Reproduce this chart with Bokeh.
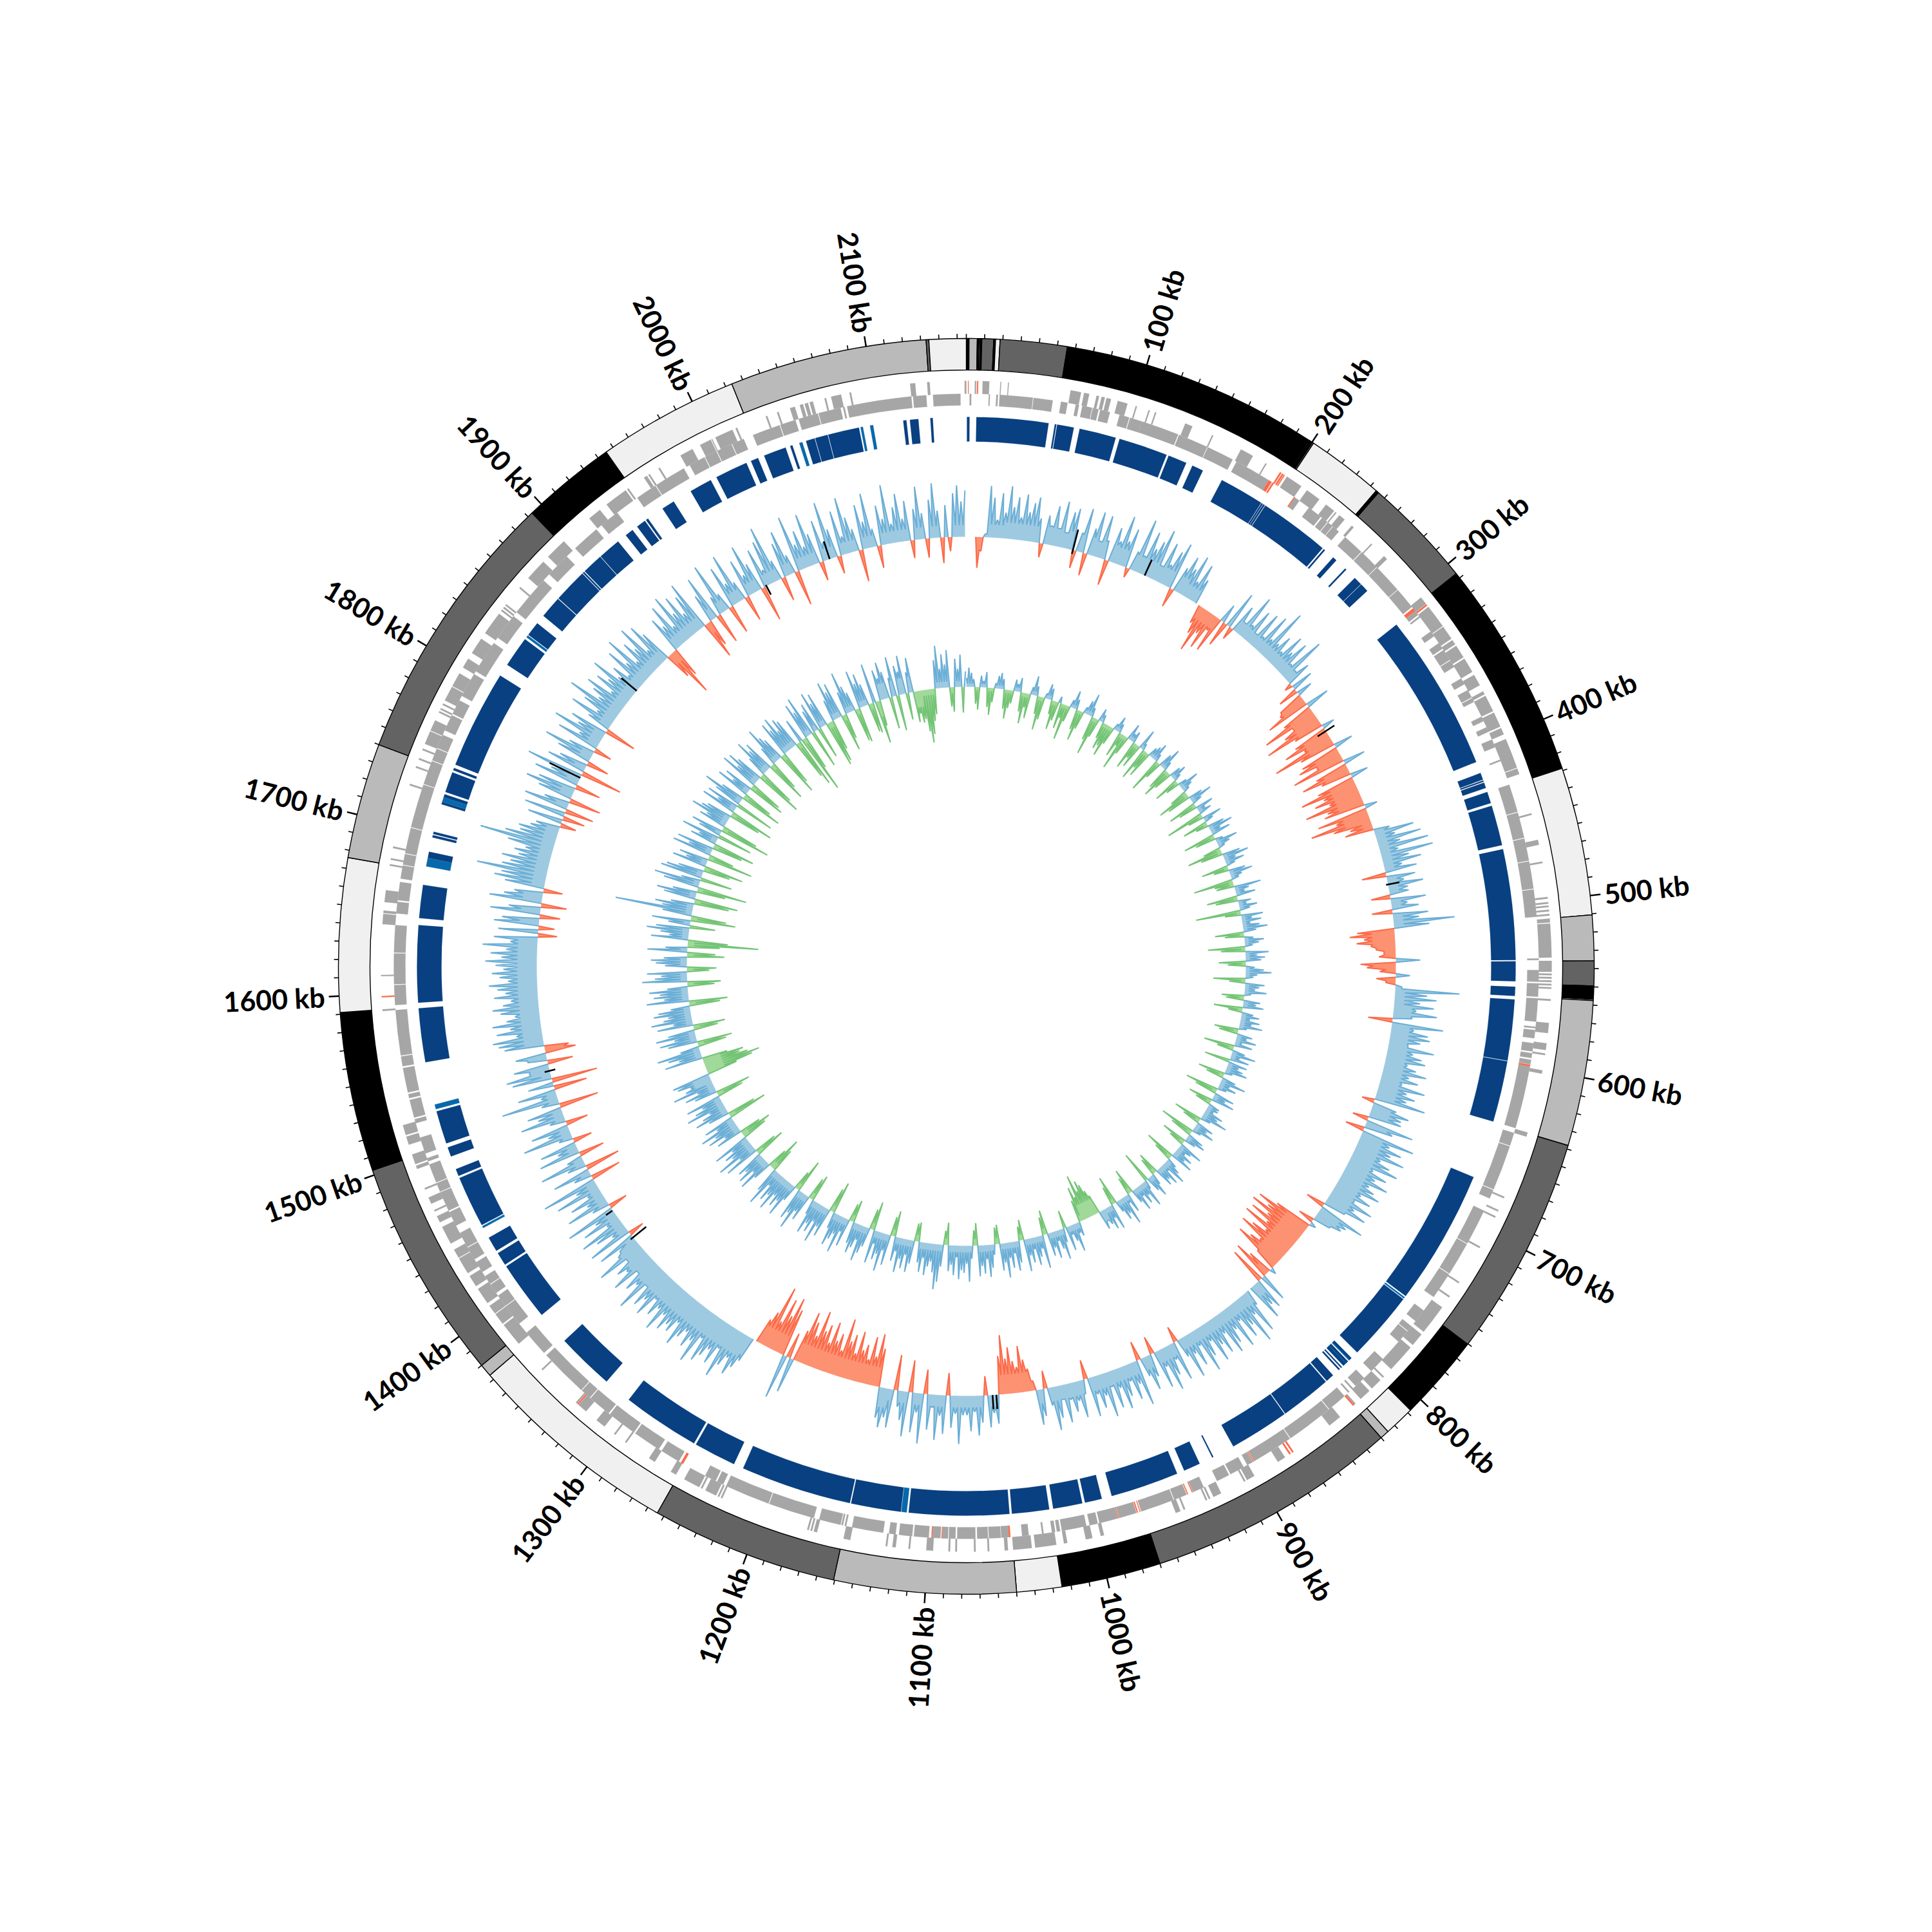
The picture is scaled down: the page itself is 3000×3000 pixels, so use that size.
import numpy as np
from bokeh.plotting import figure
from bokeh.models import Range1d
from bokeh.core.properties import value
from bokeh.embed import file_html
from bokeh.resources import INLINE

GENOME_KB = 2155
K, D, M, L = "#000000", "#636363", "#bababa", "#f0f0f0"
RING = [(0,1.5,K),(1.5,6,M),(6,7,K),(7,7.6,L),(7.6,8.5,K),(8.5,15,D),(15,16,K),(16,18.5,L),(18.5,55.5,D),
        (55.5,198,K),(198,198.6,D),(198.6,199,K),(199,199.5,L),(199.5,200.2,K),(200.2,201,D),(201,244,L),
        (244,244.6,K),(244.6,245,L),(245,245.6,K),(245.6,307,D),(307,428.7,K),(428.7,510.6,L),(510.6,535.7,M),
        (535.7,549.5,D),(549.5,556.8,K),(556.8,557.5,L),(557.5,638,M),(638,760.3,D),(760.3,808,K),(808,825,L),
        (825,830,M),(830,970,D),(970,1025,K),(1025,1050,L),(1050,1150.6,M),(1150.6,1254,D),(1254,1373,L),
        (1373,1380,M),(1380,1502.7,D),(1502.7,1591,K),(1591,1676,L),(1676,1740,M),(1740,1893,D),(1893,1945.5,K),
        (1945.5,2023.7,L),(2023.7,2133,M),(2133,2134.5,D),(2134.5,2155,L)]

BLOCKS_DARK = [(0.4,2),(6.3,51.6),(55.5,56.5),(57,67.6),(71.3,94.5),(97,128),(129.4,141.3),(145.5,152.7),(166,194.3),
    (194.6,195.6),(195.9,197),(197.4,242),(243,244),(250.8,253.5),(261,262),(269.4,274.8),(275.1,280.6),(308.5,408),
    (415.4,419.8),(420.3,421.2),(421.8,425.3),(428,435.3),(437,462.4),(465,534.8),(535.6,548.1),(551.5,557.3),
    (559.5,598),(598.4,637),(673.8,759.6),(762,806),(811,813),(814,818),(819.2,820),(821,822),(826.8,832),(832.8,865),
    (865.6,903.4),(917.5,918.3),(927,937.6),(942.4,985.6),(992,1002.8),(1004.5,1023),(1025.5,1049),(1050.5,1113.6),
    (1118.5,1150),(1150.8,1221),(1227.3,1254),(1255.4,1304.5),(1322.4,1359),(1380.5,1418),(1419.4,1427.8),
    (1429.6,1439),(1448,1480.6),(1482,1486.5),(1495,1501),(1503.7,1524.6),(1556,1590),(1593.5,1642),(1646.4,1667.3),
    (1684.3,1688.3),(1697.5,1699),(1699.7,1701.2),(1719,1720.5),(1723.5,1725.5),(1727,1740),(1741.5,1743),(1745.2,1807.5),
    (1815.6,1835),(1838.5,1847.6),(1853.6,1867.5),(1868,1889.5),(1890,1891),(1891.6,1904.8),(1905.2,1919.5),
    (1925.7,1931),(1934.6,1940.6),(1941.5,1943),(1954,1962.3),(1974.7,1989),(1993,2013.7),(2016.8,2021.6),
    (2025.7,2040),(2043,2044.5),(2053.4,2059),(2059.4,2067.4),(2067.8,2087.5),(2115.5,2117.5),(2119.7,2125),(2132.5,2134)]
BLOCKS_LIGHT = [(812.5,813.2),(815.5,816),(1114.8,1118.2),(1446,1447.3),(1526,1529),(1679,1684.3),(1720.5,1723.5),
    (1836.5,1838),(2049,2051),(2088.5,2090),(2094.5,2096.5),(760.5,761.5)]

GENES_OUTER = [(2154,2155),(5,5.8),(9.6,13.5),(20,20.5),(24.5,25),(61.5,67.7),(69.5,72.6),(77,78.5),(80,82),(83,85.7),
    (89.8,95.7),(100.7,101.5),(108.6,109.4),(112.6,113.4),(131.5,136),(148.6,149.4),(167.5,175.5),(184,184.8),(198.8,209),
    (213,222),(227,233),(234,234.8),(237,241),(246.5,248),(262,262.8),(272.5,275),(305,309.8),(312,326),(326.5,335),
    (336,339),(340,348),(349,358),(360,367),(371,373),(374,384),(385,394),(395,399),(402,420),(420.5,424),(448,449),
    (464,467),(477,478),(498,499),(501,502),(503,504),(505.5,506.5),(508,509),(510.7,513),(513.6,533.6),(535.5,542),
    (543,544),(545,546),(547,548),(549,550),(551,552),(558,559),(572,578),(584,588),(590,591),(600,602),(637.5,640),
    (677.5,678.5),(686,687),(690,691),(710,711),(734,735),(744,745),(752,770),(772,780),(782,799),(805,806),(808,815),
    (817,824),(828,829),(840,848),(880,885),(901,906),(907,908),(923,928),(930,931),(932,933),(946,947),(949,952),
    (996,998),(1003,1007),(1018,1020),(1024.5,1037),(1039,1050),(1053,1055),(1064,1065),(1072,1073),(1083,1084),
    (1087,1088),(1097,1101),(1110.5,1111.5),(1119,1121),(1124,1125),(1146,1150),(1166,1168),(1169,1170),(1171,1172),
    (1225,1226),(1227,1228),(1229,1236),(1238,1239),(1240,1250),(1255.5,1259),(1270,1274),(1290,1291),(1298,1299),
    (1306,1312),(1320,1325.8),(1327,1328),(1355,1356),(1376,1390),(1391,1398),(1398.5,1404),(1406,1416),(1418,1425),
    (1427,1437),(1437.5,1443),(1447,1458),(1461,1465),(1468,1469),(1473,1477),(1482,1483),(1495,1497),(1498,1504),
    (1510,1515),(1516,1522),(1590,1591),(1610.5,1611.2),(1641,1647),(1647.5,1649),(1654,1661),(1675.5,1676.5),(1679,1680),
    (1686,1687),(1724,1725),(1735,1736),(1740,1741),(1746,1747),(1750,1758),(1758.5,1765),(1770,1771),(1772,1773),
    (1775,1776),(1778,1787),(1787.5,1796),(1800,1806),(1810,1820),(1824,1838),(1840,1841),(1842,1843),(1844,1845),
    (1857,1858),(1865,1878),(1882,1895),(1915,1923),(1928,1942),(1943,1944),(1955,1957),(1958,1959),(1965,1966),
    (1980,1988),(1993,2000),(2000.5,2001),(2003,2014),(2016,2017),(2035,2036),(2042,2043),(2050,2053),(2056,2058),
    (2059,2061),(2062,2064),(2071,2072),(2075,2081),(2086,2087),(2122,2125),(2132,2133.5)]
GENES_INNER = [(2,3),(13.5,14.2),(18,19),(20,40),(40.4,52),(57,61),(66,68),(70,76),(76.4,80),(81,87),(93,99),(99.5,107),
    (107,130),(130.6,149),(149.4,166),(168.6,191),(209.6,213),(220,229),(230,234),(234.5,238),(238.4,243),(248,261),
    (261.5,274),(274.4,292.4),(292.8,306),(309,312),(313,314),(324.5,328),(333,337),(338,345),(345.5,350),(358,362),
    (366,371),(371.5,374),(384,387),(391,394),(399,404),(412,413),(428,445),(445.5,461),(461.5,475),(475.5,492),(492.5,509),
    (534,535),(541,548),(549,557),(558,572),(575,576),(577,582),(585,590),(591,594),(595,597.8),(599,637),(640,648),
    (648.5,676),(676.5,682),(690,712),(712.5,733),(733.5,750),(760,768),(772,775.5),(776,784),(798,808),(814,821),
    (823,824),(826,827),(830,842),(842.5,871),(871.5,896.8),(897.8,901.5),(904,913),(914,922),(930.8,937.8),(942,950),
    (950.5,971),(974,984.8),(985.6,997),(998,1003),(1005,1020),(1021,1023),(1024,1026),(1031,1032),(1040,1044),
    (1052,1056.5),(1056.8,1064),(1064.5,1071),(1072,1083),(1084,1088),(1088.5,1092),(1093,1098),(1100,1109),(1110,1118),
    (1120,1124),(1127.5,1146.5),(1150,1151),(1152,1153),(1153.5,1166.7),(1170,1198),(1198.5,1226),(1228,1232),(1233,1240),
    (1258,1270),(1272,1289),(1290,1308),(1309,1323),(1323.6,1330),(1330.5,1360),(1362,1378),(1385,1398),(1398.5,1406),
    (1408,1414),(1414.5,1420),(1423,1430),(1432,1440),(1440.5,1450),(1455,1464),(1465,1477),(1477.5,1483),(1483.5,1495),
    (1497,1499),(1502,1512),(1521,1523.5),(1524.5,1535.5),(1536.5,1539),(1540,1555),(1556,1562),(1562.6,1590),(1593,1605),
    (1605.5,1624),(1624.5,1641),(1648,1655),(1656,1667),(1669,1677),(1677.5,1684),(1684.5,1700),(1700.5,1727),(1727.5,1742),
    (1742.5,1750),(1750.5,1759),(1762,1772),(1773,1782),(1785,1800),(1802,1822),(1826,1842),(1845,1870),(1875,1890),
    (1897,1914),(1918,1930),(1945,1958),(1958.5,1978),(1982,1992),(1992.5,2000),(2000.5,2010),(2010.5,2018),(2024,2041),
    (2041.5,2051),(2053,2065),(2065.5,2079),(2080.5,2081.5),(2083,2122),(2123,2131),(2135,2151.5)]
RED_OUTER = [(1,1.4),(6.3,7),(194,195),(195.5,196.5),(196.8,197.4),(310,311),(829,830),(874,875),(876,877),(1326,1326.8),(1598,1598.8)]
RED_INNER = [(191,193),(193.5,194.5),(209,209.6),(307,309),(598,599),(897,897.6),(938,938.6),(941,941.6),(971.5,972),
    (973,973.7),(985,985.5),(1051,1052),(1092,1092.4),(1098,1098.5),(1255,1256.5)]

# GC content peaks, one every 3 kb, twenty to the line
GC_CONTENT = [
 0,0,0,-48,-22,5,80,62,28,70,40,82,50,66,35,72,45,60,70,38,
 -22,45,30,62,28,72,24,58,65,-28,30,70,-35,42,70,25,68,30,-40,55,
 35,78,40,62,-15,30,85,28,70,45,60,82,25,66,33,58,75,-30,40,62,
 45,70,30,62,40,0,-30,-45,-72,-38,-60,-25,-58,30,-40,60,-20,45,20,72,
 25,55,18,60,22,66,28,85,30,48,25,60,35,58,22,75,20,40,-12,35,
 -32,25,-40,-45,-70,38,-50,-88,-40,-60,-95,-48,20,-55,-76,-45,-100,-58,30,-62,
 -70,-42,-85,35,-52,-78,-48,28,-60,-90,-55,-72,-50,-92,-58,-65,20,-80,-52,-95,
 -60,-35,-45,25,62,30,70,35,78,28,82,42,60,28,50,-38,45,26,55,30,
 30,-30,55,25,42,-32,55,40,95,55,-58,-70,-48,-60,-38,-30,-18,-26,38,-55,
 -45,-25,22,-30,-15,10,100,50,65,40,62,35,68,30,-38,80,35,58,62,48,
 30,72,40,55,62,35,50,68,42,58,34,72,45,60,48,80,-20,38,60,50,
 52,-25,76,45,-30,85,48,70,55,80,44,62,78,40,66,50,74,46,58,70,
 42,62,38,72,45,68,35,-30,75,50,45,28,-25,10,-60,-90,-70,-95,-62,-88,
 -55,-92,-48,-70,-86,-45,-60,-78,-35,10,-40,-62,45,-58,50,40,60,0,25,70,
 35,80,45,62,28,70,35,55,68,30,60,42,66,28,50,72,25,55,32,68,
 30,-25,62,25,48,70,28,60,-28,36,55,30,-30,72,35,58,26,48,66,30,
 60,24,70,34,52,28,62,-30,22,58,30,46,25,60,22,50,68,28,-28,42,
 55,-15,-35,-50,-72,-40,-50,-72,-55,-92,-60,45,28,50,-30,42,62,25,55,30,
 30,75,28,50,-35,60,32,70,20,55,-38,78,30,62,-50,70,45,25,-55,60,
 45,62,48,-60,-82,-45,-75,-38,-60,-50,-78,-42,-70,-58,-92,-40,-65,-52,-80,-45,
 -72,-60,-90,-48,-68,-82,-50,55,-40,70,-75,-92,-60,-85,-45,-100,-55,-40,0,40,
 55,70,45,62,85,40,70,50,65,78,42,88,55,70,48,62,80,45,66,58,
 72,50,82,48,65,40,75,52,68,35,85,45,60,30,72,42,55,30,78,38,
 30,62,-25,70,25,50,72,22,60,35,80,-30,28,68,30,55,22,72,35,88,
 -48,28,60,-55,30,72,25,-40,65,32,58,-30,22,78,35,60,-35,25,70,40,
 55,-62,28,90,25,60,-52,40,-72,62,70,32,55,-40,30,48,-48,-38,62,70,
 78,40,70,48,75,52,38,60,72,55,42,68,50,62,75,45,58,70,52,64,
 80,55,72,48,85,42,68,-30,62,-25,70,58,-32,78,50,-40,82,60,45,-30,
 62,80,70,110,72,60,75,50,58,42,72,118,80,58,62,45,38,-25,55,-35,
 65,-45,70,40,-50,55,78,60,-40,72,48,90,-65,62,45,-35,55,80,42,-28,
 68,35,82,45,60,-50,38,72,30,58,88,40,55,70,30,62,45,78,35,50,
 25,70,40,82,30,62,45,80,30,72,52,-42,-78,-48,58,40,72,30,80,45,
 70,35,62,80,-60,-42,45,72,-48,30,82,28,-45,66,35,80,30,-40,60,32,
 78,45,-55,62,25,70,90,32,-38,55,72,30,-55,88,40,60,32,82,48,-30,
 65,28,90,45,-28,70,28,88,55,35,-50,70,42,85,28,-35,62,40,92,30,
 55,75,35,62,-28,48,82,40,-30,60,85,42,-40,50,-22,68,80,55,72]
# thickness of the solid band under the GC content peaks, one value per 30 kb
GC_BAND = [20,25,28,28,26,26,20,20,18,18,40,40,40,40,15,15,15,35,15,28,30,30,35,35,35,40,40,20,18,18,
           20,20,22,22,30,18,18,18,30,30,30,30,35,35,35,35,15,15,15,15,15,30,30,30,30,30,20,20,20,18,18,18,
           18,18,18,18,18,18,18,18,18,18]

# GC skew peaks, one every 3 kb, twenty to the line
GC_SKEW = [
 14,30,22,12,-26,-35,18,10,24,-30,-42,-22,8,20,25,16,-30,-45,-28,-20,
 18,12,22,-30,-48,-22,-38,12,30,15,-28,-52,-35,8,24,18,-22,-45,-30,10,
 -40,-22,-55,-25,12,28,16,-32,-48,-28,10,22,35,14,-38,-60,-30,20,12,-26,
 -42,-35,-50,-28,10,24,14,-40,-20,-58,-30,26,12,18,-45,-25,-38,32,10,-52,
 -30,-42,15,20,28,12,-55,-28,22,35,14,-35,-48,-30,18,25,12,-40,-22,14,
 32,18,10,-28,-52,-38,22,36,16,-45,-30,28,12,20,-60,-25,30,14,-40,-20,
 26,38,16,30,-50,-32,12,34,20,10,-28,-55,-35,28,40,18,30,14,-42,-24,
 26,36,18,12,-62,-30,-28,42,22,14,30,-48,-35,20,12,28,16,-70,-25,34,
 16,30,12,26,38,20,-45,-30,14,30,22,12,-58,-38,36,18,30,24,-42,-28,
 14,28,40,18,12,-50,-25,30,22,16,34,10,-35,-28,26,20,32,-45,-22,18,
 28,14,30,18,36,12,-38,-30,24,16,32,10,28,-48,-26,20,38,14,30,-40,
 30,18,26,34,12,-42,-28,22,40,16,28,14,-52,-35,32,20,36,-38,-25,18,
 18,12,30,24,42,16,-45,-28,28,20,34,14,-55,-35,26,32,18,-40,-25,38,
 22,14,30,20,36,-48,-30,16,26,40,12,34,22,30,-35,-28,18,36,24,-50,
 14,42,20,32,16,38,22,-40,-28,30,12,46,26,34,18,-45,-30,40,20,36,
 26,18,30,-30,-40,-52,-60,-45,-72,-38,-55,-35,22,16,44,26,14,38,-28,22,
 48,30,16,42,24,36,-38,-28,52,20,32,44,18,38,26,50,-32,-22,34,46,
 18,40,24,54,30,42,-30,-26,16,36,50,22,44,32,48,-35,-24,20,56,28,
 42,38,52,18,46,30,40,-35,-22,34,58,70,44,28,36,50,24,46,32,-30,
 -28,36,50,24,46,32,54,22,38,-40,-30,48,26,60,34,44,20,52,-45,-32,
 30,42,56,24,38,48,34,-35,-28,44,22,58,30,40,52,26,-50,-38,46,32,
 60,28,48,36,54,24,-42,-35,42,30,62,38,50,-52,-30,26,56,34,46,30,
 58,36,48,24,62,40,-38,-55,-32,30,54,26,50,34,44,-48,-36,56,28,64,
 36,46,30,58,-40,-50,-34,42,26,52,38,60,30,48,-62,-45,34,54,40,26,
 62,46,32,56,-42,-55,36,50,28,66,44,34,54,60,-48,-75,-88,-70,-58,-65,
 -40,60,36,52,68,30,-45,-55,46,58,34,62,42,-38,-50,56,30,64,44,36,
 58,50,30,-48,-60,66,38,54,44,60,32,-42,-52,70,50,40,62,-35,-46,34,
 48,56,36,-58,-44,62,34,-50,-110,-62,58,30,44,66,52,-40,34,60,-70,-55,
 46,121,48,60,36,-55,-68,50,62,38,-45,-78,56,72,30,-50,66,58,40,-42,
 -62,54,34,46,-72,-40,62,38,58,-48,-66,42,30,60,-55,36,50,-80,-58,44,
 34,62,48,40,-50,-70,56,32,52,-62,44,66,38,-67,-48,54,30,46,-60,-52,
 62,38,58,44,-75,-58,32,60,40,50,-66,-48,30,62,44,36,-70,-54,56,42,
 60,34,52,46,-62,-78,38,-92,-55,58,42,64,-60,36,46,-50,60,40,54,-72,
 -67,-48,34,62,44,56,-58,-40,36,66,42,30,-52,-55,60,38,52,34,-45,-48,
 62,-67,-40,48,34,58,42,-50,30,62,-56,46,36,60,-42,32,54,-48,-35,-50,
 -45,-65,-83,-70,-50,-40,44,66,30,52,36,58,-30,-38,44,28,50,-40,24]
# thickness of the band under the GC skew peaks, one value per 30 kb
SKEW_BAND = [5,5,6,6,5,6,6,6,5,5,6,6,6,6,6,6,6,6,6,7,7,7,7,7,7,7,8,8,8,8,
             25,9,9,9,9,10,10,10,10,10,10,10,10,10,10,10,10,10,10,28,10,10,10,10,10,10,10,9,9,9,9,9,
             9,9,9,9,9,9,25,25,9,9]

# short black strokes on the GC content track: position (kb), low and high deviation
GC_MISSING = [(86,-6,33),(146.8,0,27),(340,-15,16),(473,-3,18),(1053.5,0,22),(1056.5,0,22),(1409,1,13),(1382,-26,5),
              (1532,-9,8),(1772,0,53),(1855,0,31),(1989,-15,2),(2044,0,29)]
MAJOR_KB = [100,200,300,400,500,600,700,800,900,1000,1100,1200,1300,1400,1500,1600,1700,1800,1900,2000,2100]
MINOR_STEP_KB = 10


def theta(kb):
    return np.pi / 2 - np.asarray(kb, dtype=float) * 2 * np.pi / GENOME_KB


def xy(kb, r):
    t = theta(kb)
    return np.asarray(r) * np.cos(t), np.asarray(r) * np.sin(t)


p = figure(width=2984, height=2984, output_backend="svg", toolbar_location=None, min_border=0,
           x_range=Range1d(-1500, 1484), y_range=Range1d(-1484, 1500), outline_line_color=None,
           background_fill_color="white", border_fill_color="white")
p.axis.visible = False
p.grid.visible = False


def wedges(items, r0, r1, color):
    s = [a for a, _ in items]
    e = [b for _, b in items]
    p.annular_wedge(x=0, y=0, inner_radius=r0, outer_radius=r1, start_angle=theta(s), end_angle=theta(e),
                    direction="clock", fill_color=color, line_color=color, line_width=0.2)


def signed_track(values, band, base, pos_fill, pos_line, neg_fill, neg_line):
    v = np.asarray(values, dtype=float)
    kb, val = [], []
    for i, a in enumerate(v):
        kb.append(i * 3.0)
        val.append(a)
        if i + 1 < len(v):
            b = v[i + 1]
            kb.append(i * 3.0 + 1.5)
            thick = band[min(i // 10, len(band) - 1)]
            val.append(np.sign(a) * min(thick, abs(a), abs(b)) if a * b > 0 else 0.0)
    kb, val = np.array(kb), np.array(val)
    for sign, fill, line in ((1, pos_fill, pos_line), (-1, neg_fill, neg_line)):
        xs, ys, lx, ly = [], [], [], []
        i = 0
        while i < len(val):
            if sign * val[i] <= 0:
                i += 1
                continue
            j = i
            while j + 1 < len(val) and sign * val[j + 1] > 0:
                j += 1
            a, b = max(i - 1, 0), min(j + 1, len(val) - 1)
            x, y = xy(kb[a:b + 1], base + val[a:b + 1])
            bx, by = xy(kb[a:b + 1][::-1], np.full(b - a + 1, base))
            xs.append(np.concatenate((x, bx)))
            ys.append(np.concatenate((y, by)))
            lx.append(x)
            ly.append(y)
            i = j + 1
        p.patches(xs, ys, fill_color=fill, line_color=None)
        p.multi_line(lx, ly, line_color=line, line_width=2)


# outer ring
s = [a for a, _, _ in RING]
e = [b for _, b, _ in RING]
c = [col for _, _, col in RING]
p.annular_wedge(x=0, y=0, inner_radius=926, outer_radius=975, start_angle=theta(s), end_angle=theta(e),
                direction="clock", fill_color=c, line_color="black", line_width=1.4)

# ticks
minor = np.arange(0, GENOME_KB, MINOR_STEP_KB)
x0, y0 = xy(minor, 975)
x1, y1 = xy(minor, 982)
p.segment(x0, y0, x1, y1, line_color="black", line_width=1.6)
x0, y0 = xy(MAJOR_KB, 975)
x1, y1 = xy(MAJOR_KB, 991)
p.segment(x0, y0, x1, y1, line_color="black", line_width=2.4)

# labels
kb_lab = np.array(MAJOR_KB, dtype=float)
deg = kb_lab * 360 / GENOME_KB
right = deg < 180
lx, ly = xy(kb_lab, 997)
labels = [f"{int(k)} kb" for k in kb_lab]
FONT = value("Lato")
p.text(lx[right], ly[right], text=[labels[i] for i in np.where(right)[0]],
       angle=np.radians(90 - deg[right]), text_align="left", text_baseline="middle",
       text_font=FONT, text_font_size="43px", text_font_style="bold", text_color="black")
p.text(lx[~right], ly[~right], text=[labels[i] for i in np.where(~right)[0]],
       angle=np.radians(270 - deg[~right]), text_align="right", text_baseline="middle",
       text_font=FONT, text_font_size="43px", text_font_style="bold", text_color="black")

# gene tracks
GREY, RED = "#a6a6a6", "#fb6a4a"
wedges(GENES_OUTER, 889, 909, GREY)
wedges(GENES_INNER, 871, 889, GREY)
wedges(RED_OUTER, 889, 909, RED)
wedges(RED_INNER, 871, 889, RED)

# blocks
wedges(BLOCKS_DARK, 815, 853, "#084081")
wedges(BLOCKS_LIGHT, 815, 853, "#0868ac")

# signed tracks
signed_track(GC_CONTENT, GC_BAND, 667, "#9ecae1", "#6baed6", "#fc9272", "#fb6a4a")
signed_track(GC_SKEW, SKEW_BAND, 434, "#9ecae1", "#6baed6", "#a1d99b", "#74c476")

mk = [m[0] for m in GC_MISSING]
x0, y0 = xy(mk, 667 + np.array([m[1] for m in GC_MISSING]))
x1, y1 = xy(mk, 667 + np.array([m[2] for m in GC_MISSING]))
p.segment(x0, y0, x1, y1, line_color="black", line_width=2.6)

open("out.html", "w").write(file_html(p, INLINE))
